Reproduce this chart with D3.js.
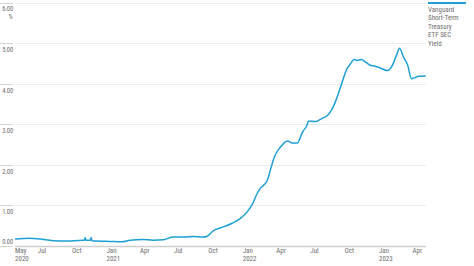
<!DOCTYPE html>
<html>
<head>
<meta charset="utf-8">
<script src="https://cdn.jsdelivr.net/npm/d3@7"></script>
<style>
  body { margin: 0; background: #fff; }
  text { font-family: "Liberation Sans Narrow", "Roboto Condensed", Roboto, sans-serif; fill: #6e6e6e; }
</style>
</head>
<body>
<div id="chart"></div>
<script>
var svgWidth = 474;
var svgHeight = 266;

// yield series (date, %)
var dates = [
  "2020-05-01", "2020-06-10", "2020-07-07", "2020-08-11", "2020-09-17", "2020-10-30",
  "2020-11-03", "2020-11-05", "2020-11-07", "2020-11-19", "2020-11-21", "2020-11-23",
  "2020-12-07", "2021-01-11", "2021-02-12", "2021-03-05", "2021-04-09", "2021-05-06",
  "2021-06-02", "2021-06-29", "2021-07-26", "2021-08-21", "2021-09-17", "2021-09-28",
  "2021-10-14", "2021-11-10", "2021-12-04", "2021-12-26", "2022-01-13", "2022-01-27",
  "2022-02-09", "2022-02-17", "2022-03-08", "2022-03-16", "2022-03-27", "2022-04-12",
  "2022-05-01", "2022-05-14", "2022-05-27", "2022-06-10", "2022-06-23", "2022-06-26",
  "2022-07-15", "2022-07-23", "2022-08-05", "2022-08-16", "2022-08-29", "2022-09-06",
  "2022-09-20", "2022-10-09", "2022-10-14", "2022-10-27", "2022-11-04", "2022-11-15",
  "2022-11-26", "2022-12-09", "2022-12-20", "2022-12-31", "2023-01-24", "2023-02-06",
  "2023-02-17", "2023-02-25", "2023-03-08", "2023-03-19", "2023-03-29", "2023-04-06",
  "2023-04-17", "2023-04-28", "2023-05-06"
];
var yields = [
  0.16, 0.18, 0.16, 0.12, 0.11, 0.13,
  0.13, 0.20, 0.13, 0.13, 0.20, 0.12,
  0.11, 0.10, 0.09, 0.13, 0.15, 0.13,
  0.14, 0.21, 0.21, 0.22, 0.21, 0.23,
  0.36, 0.46, 0.55, 0.67, 0.83, 1.02,
  1.29, 1.41, 1.61, 1.86, 2.19, 2.43,
  2.58, 2.53, 2.53, 2.80, 2.99, 3.07,
  3.06, 3.09, 3.15, 3.21, 3.38, 3.54,
  3.91, 4.39, 4.45, 4.59, 4.57, 4.59,
  4.53, 4.45, 4.43, 4.40, 4.32, 4.45,
  4.70, 4.87, 4.65, 4.45, 4.12, 4.14,
  4.18, 4.18, 4.19
];

var yTicks = [0, 1, 2, 3, 4, 5, 6];
var xTickDates = ["2020-05-01", "2020-07-01", "2020-10-01", "2021-01-01", "2021-04-01", "2021-07-01",
  "2021-10-01", "2022-01-01", "2022-04-01", "2022-07-01", "2022-10-01", "2023-01-01", "2023-04-01"];
var monthNames = ["Jan", "Feb", "Mar", "Apr", "May", "Jun", "Jul", "Aug", "Sep", "Oct", "Nov", "Dec"];
var legendLines = ["Vanguard", "Short-Term", "Treasury", "ETF SEC", "Yield"];

var parse = d3.utcParse("%Y-%m-%d");
var data = dates.map((d, i) => ({ date: parse(d), value: yields[i] }));

var plotLeft = 15, plotRight = 426;
var lineColor = "#1e9fd5";

var svg = d3.select("#chart").append("svg")
  .attr("width", svgWidth)
  .attr("height", svgHeight);

var x = d3.scaleUtc()
  .domain([parse("2020-05-01"), parse("2023-05-07")])
  .range([plotLeft, plotRight]);

var y = d3.scaleLinear()
  .domain([0, 6])
  .range([245.5, 2.5]);

// gridlines + left ticks
var grid = svg.append("g");
yTicks.forEach(function (t) {
  var yy = Math.round(y(t)) + 0.5;
  grid.append("line")
    .attr("x1", 0).attr("x2", 13)
    .attr("y1", yy).attr("y2", yy)
    .attr("stroke", "#d4d4d4");
  grid.append("line")
    .attr("x1", plotLeft).attr("x2", plotRight)
    .attr("y1", yy).attr("y2", yy)
    .attr("stroke", t === 0 ? "#cfcfcf" : "#ececec")
    .attr("stroke-width", t === 0 ? 1.5 : 1);
  grid.append("text")
    .attr("x", 13)
    .attr("y", t === 0 ? yy - 2.5 : (t === 6 ? yy + 7 : yy + 8.5))
    .attr("text-anchor", "end")
    .attr("font-size", 6.6)
    .attr("letter-spacing", -0.2)
    .text(d3.format(".2f")(t));
});
svg.append("text")
  .attr("x", 12.5)
  .attr("y", 18.5)
  .attr("text-anchor", "end")
  .attr("font-size", 6.5)
  .text("%");

// x axis labels
var xLabels = svg.append("g");
xTickDates.forEach(function (s) {
  var d = parse(s);
  var xx = x(d);
  xLabels.append("text")
    .attr("x", xx)
    .attr("y", 253)
    .attr("font-size", 7)
    .text(monthNames[d.getUTCMonth()]);
  if (d.getUTCMonth() === 0 || s === "2020-05-01") {
    xLabels.append("text")
      .attr("x", xx)
      .attr("y", 261)
      .attr("font-size", 7)
      .text(d.getUTCFullYear());
  }
});

// line
var line = d3.line()
  .x(d => x(d.date))
  .y(d => y(d.value))
  .curve(d3.curveMonotoneX);

svg.append("path")
  .datum(data)
  .attr("fill", "none")
  .attr("stroke", lineColor)
  .attr("stroke-width", 1.5)
  .attr("stroke-linejoin", "round")
  .attr("d", line);

// legend
var legend = svg.append("g");
legend.append("line")
  .attr("x1", 428).attr("x2", 466)
  .attr("y1", 3).attr("y2", 3)
  .attr("stroke", lineColor)
  .attr("stroke-width", 2);
legendLines.forEach(function (t, i) {
  legend.append("text")
    .attr("x", 428)
    .attr("y", 11.5 + i * 8.6)
    .attr("font-size", 7)
    .text(t);
});
</script>
</body>
</html>
